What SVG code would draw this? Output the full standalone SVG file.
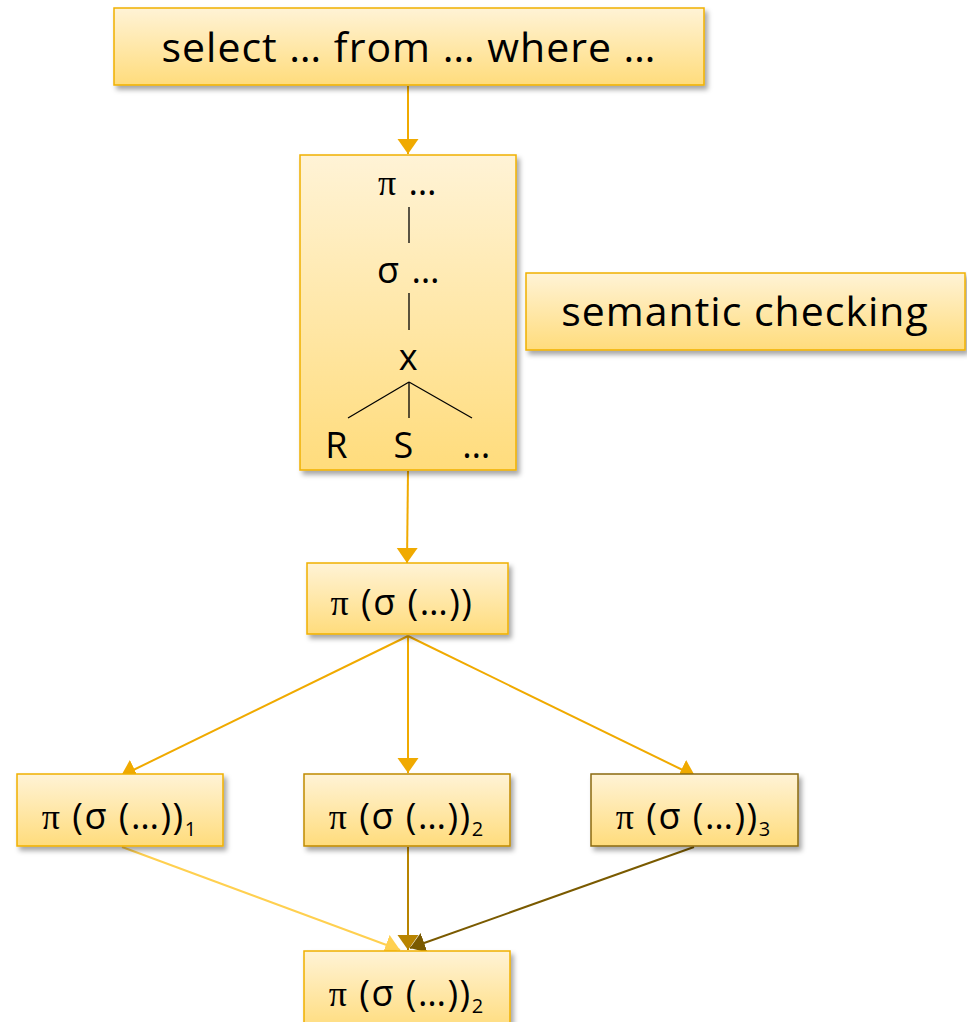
<svg xmlns="http://www.w3.org/2000/svg" width="967" height="1022" viewBox="0 0 967 1022">
  <defs>
    <linearGradient id="boxFill" x1="0" y1="0" x2="0" y2="1">
      <stop offset="0" stop-color="#fff3d6"/>
      <stop offset="1" stop-color="#ffdc7c"/>
    </linearGradient>
    <filter id="shadow" x="-10%" y="-10%" width="130%" height="140%">
      <feDropShadow dx="3" dy="4" stdDeviation="2.5" flood-color="#000" flood-opacity="0.35"/>
    </filter>
    <marker id="ahGold" markerUnits="userSpaceOnUse" markerWidth="16" markerHeight="22" refX="15" refY="10.5" orient="auto" viewBox="0 0 16 22">
      <path d="M0,0 L15,10.5 L0,21 z" fill="#f0aa00"/>
    </marker>
    <marker id="ahLight" markerUnits="userSpaceOnUse" markerWidth="16" markerHeight="22" refX="15" refY="10.5" orient="auto" viewBox="0 0 16 22">
      <path d="M0,0 L15,10.5 L0,21 z" fill="#ffd050"/>
    </marker>
    <marker id="ahDark" markerUnits="userSpaceOnUse" markerWidth="16" markerHeight="22" refX="15" refY="10.5" orient="auto" viewBox="0 0 16 22">
      <path d="M0,0 L15,10.5 L0,21 z" fill="#b88400"/>
    </marker>
    <marker id="ahBrown" markerUnits="userSpaceOnUse" markerWidth="16" markerHeight="22" refX="15" refY="10.5" orient="auto" viewBox="0 0 16 22">
      <path d="M0,0 L15,10.5 L0,21 z" fill="#7a5a00"/>
    </marker>
  </defs>
  <style>
    .box { fill: url(#boxFill); stroke: #f0b000; stroke-width: 1.5; filter: url(#shadow); }
    .box.dark { stroke: #c08a00; }
    .box.brown { stroke: #8a6a10; }
    .lbl { font-family: "Open Sans", Lato, "Liberation Sans", sans-serif; fill: #000; text-anchor: middle; }
    .big { font-size: 41px; letter-spacing: 1px; }
    .mid { font-size: 36px; letter-spacing: 1.5px; }
    .sub { font-size: 20px; letter-spacing: 0; }
    .pi { font-family: "Liberation Serif", "DejaVu Serif", serif; }
    .tree { stroke: #000; stroke-width: 1.3; fill: none; }
    .conn { fill: none; stroke-width: 2; }
  </style>

  <g id="connectors">
    <line class="conn" x1="408" y1="86" x2="408" y2="154" stroke="#f0aa00" marker-end="url(#ahGold)"/>
    <line class="conn" x1="408" y1="471" x2="407" y2="563" stroke="#f0aa00" marker-end="url(#ahGold)"/>
    <line class="conn" x1="408" y1="636" x2="121" y2="776" stroke="#f0aa00" marker-end="url(#ahGold)"/>
    <line class="conn" x1="408" y1="636" x2="408" y2="773" stroke="#f0aa00" marker-end="url(#ahGold)"/>
    <line class="conn" x1="408" y1="636" x2="695" y2="776" stroke="#f0aa00" marker-end="url(#ahGold)"/>
    <line class="conn" x1="122" y1="847" x2="400" y2="950" stroke="#ffd050" marker-end="url(#ahLight)"/>
    <line class="conn" x1="408" y1="847" x2="408" y2="950" stroke="#b88400" marker-end="url(#ahDark)"/>
    <line class="conn" x1="694" y1="847" x2="410" y2="948" stroke="#7a5a00" marker-end="url(#ahBrown)"/>
  </g>

  <g id="node-sql">
    <rect class="box" x="114" y="8" width="590" height="77"/>
    <text class="lbl big" x="409" y="62">select … from … where …</text>
  </g>

  <g id="node-tree">
    <rect class="box" x="300" y="155" width="216" height="315"/>
    <text class="lbl mid" x="408" y="195"><tspan class="pi">π</tspan> …</text>
    <line class="tree" x1="409" y1="207" x2="409" y2="243"/>
    <text class="lbl mid" x="409" y="283">σ …</text>
    <line class="tree" x1="409" y1="293" x2="409" y2="330"/>
    <text class="lbl mid" x="409" y="370">x</text>
    <line class="tree" x1="409" y1="382" x2="348" y2="418"/>
    <line class="tree" x1="409" y1="382" x2="409" y2="418"/>
    <line class="tree" x1="409" y1="382" x2="472" y2="418"/>
    <text class="lbl mid" x="337" y="458">R</text>
    <text class="lbl mid" x="404" y="458">S</text>
    <text class="lbl mid" x="477" y="458">…</text>
  </g>

  <g id="node-semantic">
    <rect class="box" x="526" y="273" width="439" height="77"/>
    <text class="lbl big" x="745" y="326">semantic checking</text>
  </g>

  <g id="node-expr">
    <rect class="box" x="307" y="563" width="201" height="71"/>
    <text class="lbl mid" x="402" y="615"><tspan class="pi">π</tspan> (σ (…))</text>
  </g>

  <g id="node-expr-1">
    <rect class="box" x="17" y="774" width="206" height="72"/>
    <text class="lbl mid" x="119" y="829"><tspan class="pi">π</tspan> (σ (…))<tspan class="sub" dy="7">1</tspan></text>
  </g>

  <g id="node-expr-2">
    <rect class="box dark" x="304" y="774" width="206" height="72"/>
    <text class="lbl mid" x="406" y="829"><tspan class="pi">π</tspan> (σ (…))<tspan class="sub" dy="7">2</tspan></text>
  </g>

  <g id="node-expr-3">
    <rect class="box brown" x="591" y="774" width="207" height="72"/>
    <text class="lbl mid" x="693" y="829"><tspan class="pi">π</tspan> (σ (…))<tspan class="sub" dy="7">3</tspan></text>
  </g>

  <g id="node-expr-final">
    <rect class="box" x="304" y="951" width="206" height="80"/>
    <text class="lbl mid" x="406" y="1006"><tspan class="pi">π</tspan> (σ (…))<tspan class="sub" dy="7">2</tspan></text>
  </g>
</svg>
